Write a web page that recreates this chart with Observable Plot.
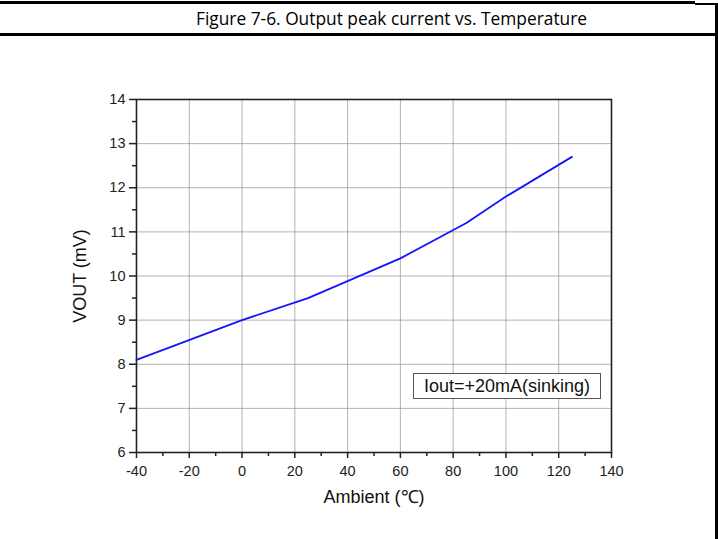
<!DOCTYPE html>
<html>
<head>
<meta charset="utf-8">
<script src="https://cdn.jsdelivr.net/npm/d3@7"></script>
<script src="https://cdn.jsdelivr.net/npm/@observablehq/plot@0.6"></script>
<style>
  body { margin: 0; background: #fff; }
  #wrap { position: relative; width: 718px; height: 539px; overflow: hidden; background: #fff; }
  .ln { position: absolute; background: #000; }
  #chart { position: absolute; left: 0; top: 0; }
  #titlesvg { position: absolute; left: 0; top: 0; }
  #legend { position: absolute; left: 413px; top: 373px; width: 186px; height: 24px;
    border: 1px solid #555; background: #fff; display: flex; align-items: center; justify-content: center;
    font: 18px "Liberation Sans", Arial, sans-serif; color: #111; }
</style>
</head>
<body>
<div id="wrap">
  <div id="chart"></div>
  <svg id="titlesvg" width="718" height="40">
    <text id="title" x="196" y="25" textLength="391" lengthAdjust="spacingAndGlyphs"
      font-family="'Open Sans', 'Noto Sans', sans-serif" font-size="18" fill="#000"></text>
  </svg>
  <div class="ln" style="left:0;top:1px;width:695px;height:3px;"></div>
  <div class="ln" style="left:695px;top:3px;width:22px;height:1.5px;"></div>
  <div class="ln" style="left:715px;top:3px;width:2.5px;height:536px;"></div>
  <div class="ln" style="left:0;top:33px;width:717px;height:2.5px;"></div>
  <div id="legend"></div>
</div>
<script>
const titleText = "Figure 7-6. Output peak current vs. Temperature";
const xLabel = "Ambient (℃)";
const yLabel = "VOUT (mV)";
const legendText = "Iout=+20mA(sinking)";

const temps = [-40, 0, 25, 60, 85, 100, 125];
const vout = [8.1, 9.0, 9.5, 10.4, 11.2, 11.8, 12.7];

const xTicks = [-40, -20, 0, 20, 40, 60, 80, 100, 120, 140];
const xMinor = [-30, -10, 10, 30, 50, 70, 90, 110, 130];
const yTicks = [6, 7, 8, 9, 10, 11, 12, 13, 14];
const yMinor = [6.5, 7.5, 8.5, 9.5, 10.5, 11.5, 12.5, 13.5];

const data = temps.map((t, i) => ({t, v: vout[i]}));

document.getElementById("title").textContent = titleText;
document.getElementById("legend").textContent = legendText;

const fmt = d => String(d);

const chart = Plot.plot({
  width: 718,
  height: 539,
  marginLeft: 136,
  marginRight: 107,
  marginTop: 99,
  marginBottom: 87,
  style: {fontFamily: '"Liberation Sans", Arial, sans-serif', fontSize: "14.5px", color: "#222", background: "transparent", overflow: "visible"},
  x: {domain: [-40, 140]},
  y: {domain: [6, 14]},
  marks: [
    Plot.gridX(xTicks, {stroke: "#888", strokeOpacity: 0.65, strokeWidth: 1}),
    Plot.gridY(yTicks, {stroke: "#888", strokeOpacity: 0.65, strokeWidth: 1}),
    Plot.axisX(xMinor, {tickSize: 4, text: null, label: null, stroke: "#222", strokeWidth: 1.5}),
    Plot.axisX(xTicks, {tickSize: 6, tickPadding: 7, label: null, tickFormat: fmt, fontSize: 14.5, stroke: "#222", strokeWidth: 1.5, fill: "#222"}),
    Plot.axisY(yMinor, {tickSize: 4, text: null, label: null, stroke: "#222", strokeWidth: 1.5}),
    Plot.axisY(yTicks, {tickSize: 7, tickPadding: 4, label: null, tickFormat: fmt, fontSize: 14.5, stroke: "#222", strokeWidth: 1.5, fill: "#222"}),
    Plot.frame({stroke: "#222", strokeWidth: 1.6}),
    Plot.line(data, {x: "t", y: "v", stroke: "#1414ff", strokeWidth: 1.8}),
    Plot.text([xLabel], {frameAnchor: "bottom", dy: 50, fontSize: 18, fill: "#111"}),
    Plot.text([yLabel], {frameAnchor: "left", textAnchor: "middle", dx: -56, rotate: -90, fontSize: 18, fill: "#111"})
  ]
});
document.getElementById("chart").appendChild(chart);
</script>
</body>
</html>
